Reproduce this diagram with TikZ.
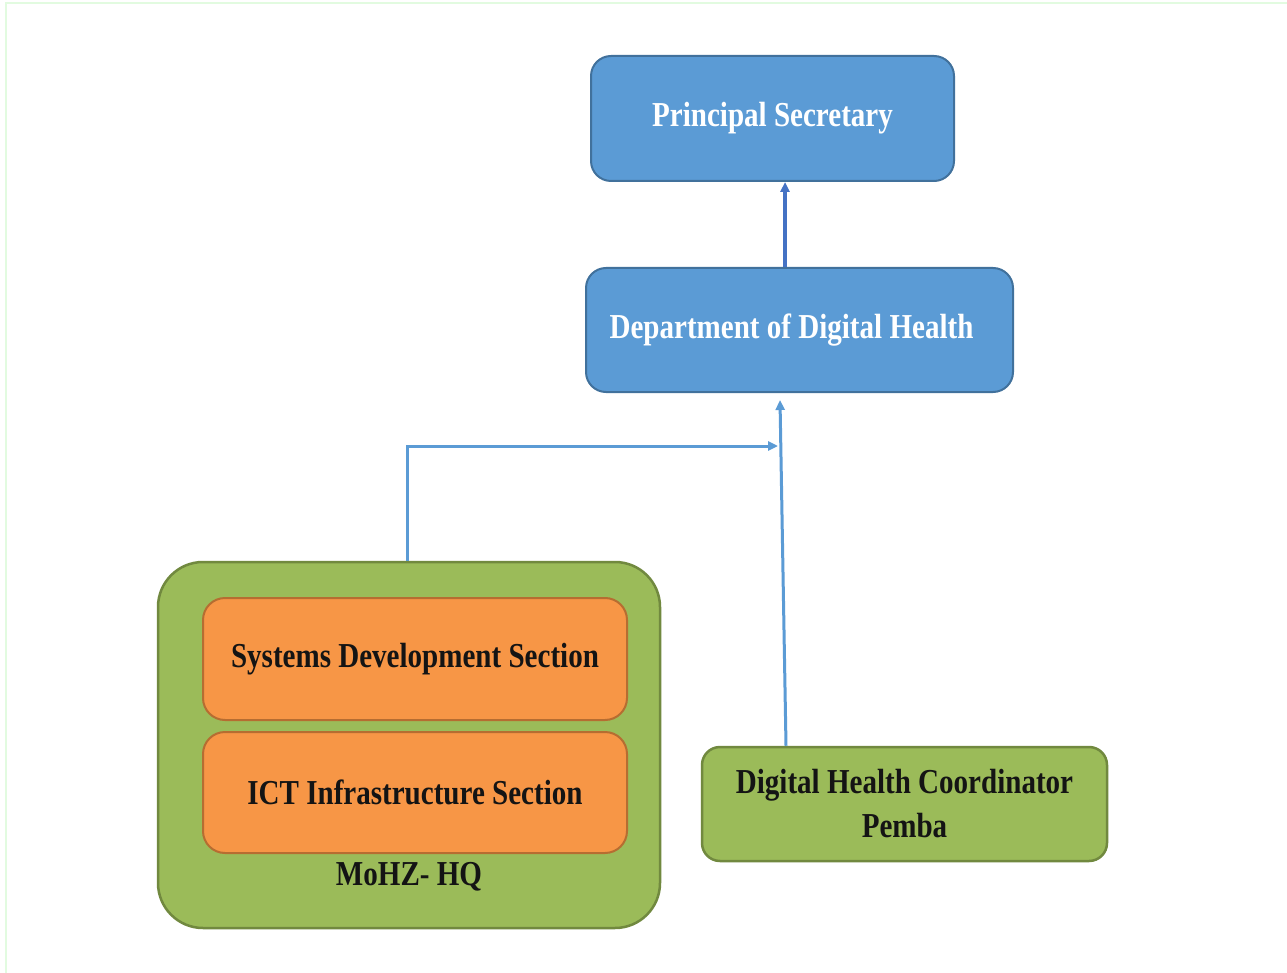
\documentclass[tikz,border=0pt]{standalone}
\usepackage{fontspec}
\setmainfont{Liberation Serif}[FakeStretch=0.83]
\usetikzlibrary{arrows.meta}
\definecolor{bluefill}{HTML}{5B9BD5}
\definecolor{blueline}{HTML}{41719C}
\definecolor{greenfill}{HTML}{9BBB59}
\definecolor{greenline}{HTML}{71893F}
\definecolor{orangefill}{HTML}{F79646}
\definecolor{orangeline}{HTML}{B66D31}
\definecolor{arrowblue}{HTML}{5B9BD5}
\definecolor{arrowdark}{HTML}{4472C4}
\definecolor{edgegreen}{HTML}{E2FBE0}
\definecolor{darktext}{HTML}{141414}
\begin{document}
\begin{tikzpicture}[x=1pt,y=-1pt,
  lbl/.style={font=\fontsize{35}{44}\selectfont\bfseries, align=center, inner sep=0pt},
  bluebox/.style={lbl, draw=blueline, fill=bluefill, text=white, line width=2pt, rounded corners=20pt},
  greenbox/.style={lbl, draw=greenline, fill=greenfill, text=darktext, line width=2.5pt},
  orangebox/.style={lbl, draw=orangeline, fill=orangefill, text=darktext, line width=2pt, rounded corners=22pt},
  conn/.style={draw=arrowblue, line width=3pt, -{Triangle[length=10pt,width=9pt]}},
  conndark/.style={draw=arrowdark, line width=3.2pt, -{Triangle[length=10pt,width=9pt]}}
]
\useasboundingbox (0,0) rectangle (1287,973);
\fill[white] (0,0) rectangle (1287,973);
\draw[edgegreen, line width=2pt] (6,973) -- (6,3.5) -- (1287,3.5);

% boxes
\node[bluebox, minimum width=363pt, minimum height=125pt] (ps) at (772.5,118.5) {Principal Secretary};
\node[bluebox, minimum width=427pt, minimum height=124pt] (ddh) at (799.5,330) {Department of Digital Health\hspace*{16pt}};
\node[greenbox, rounded corners=45pt, minimum width=502pt, minimum height=366pt] (hq) at (409,745) {};
\node[orangebox, minimum width=424pt, minimum height=122pt] (sds) at (415,659) {Systems Development Section};
\node[orangebox, minimum width=424pt, minimum height=121pt] (ict) at (415,792.5) {ICT Infrastructure Section};
\node[lbl, text=darktext] (hqlabel) at (409,877) {MoHZ- HQ};
\node[greenbox, rounded corners=18pt, minimum width=405pt, minimum height=114pt] (dhc) at (904.5,804) {Digital Health Coordinator\\Pemba};

% helper coordinates
\coordinate (xa) at (785,0);
\coordinate (xb) at (786,0);
\coordinate (tipb) at (780,400);
\coordinate (xc) at (407,0);
\coordinate (tipa) at (778,446);

% connectors
\draw[conndark] (ddh.north -| xa) -- (ps.south -| xa);
\draw[conn] (dhc.north -| xb) -- (tipb);
\draw[conn] (hq.north -| xc) |- (tipa);
\end{tikzpicture}
\end{document}
